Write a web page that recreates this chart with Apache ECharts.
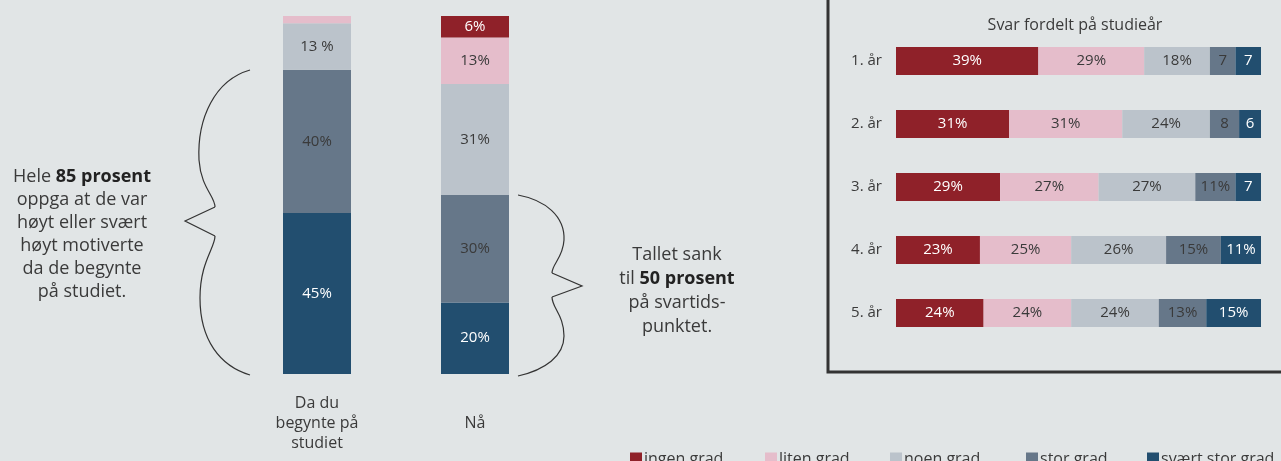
<!DOCTYPE html>
<html>
<head>
<meta charset="utf-8">
<script src="https://cdn.jsdelivr.net/npm/echarts@6/dist/echarts.min.js"></script>
<style>
  html, body { margin: 0; padding: 0; background: #e1e5e6; }
  #main { width: 1281px; height: 461px; }
</style>
</head>
<body>
<div id="main"></div>
<script>
// motivasjon da du begynte / nå
var categories = ['Da du\nbegynte på\nstudiet', 'Nå'];
var levels = ['ingen grad', 'liten grad', 'noen grad', 'stor grad', 'svært stor grad'];
var ingenGrad = [0, 6];
var litenGrad = [2, 13];
var noenGrad = [13, 31];
var storGrad = [40, 30];
var svaertStorGrad = [45, 20];

// svar fordelt på studieår
var years = ['1. år', '2. år', '3. år', '4. år', '5. år'];
var ingenYear = [39, 31, 28.5, 23, 24];
var litenYear = [29, 31, 27, 25, 24];
var noenYear = [18, 24, 26.5, 26, 24];
var storYear = [7, 8, 11, 15, 13];
var svaertYear = [7, 6, 7, 11, 15];

var colors = ['#8f2129', '#e5bdcb', '#bbc3cb', '#667789', '#224e6f'];
var labelColors = ['#ffffff', '#3a3a3a', '#3a3a3a', '#3a3a3a', '#ffffff'];
var FONT = 'Open Sans';

var chart = echarts.init(document.getElementById('main'));

var leftData = [ingenGrad, litenGrad, noenGrad, storGrad, svaertStorGrad];
var yearData = [ingenYear, litenYear, noenYear, storYear, svaertYear];

var series = [];
// stablet nedenfra: svært stor grad nederst
for (var i = levels.length - 1; i >= 0; i--) {
    series.push({
        name: levels[i],
        type: 'bar',
        stack: 'motiv',
        xAxisIndex: 0,
        yAxisIndex: 0,
        barWidth: 68,
        data: leftData[i],
        itemStyle: { color: colors[i] },
        label: {
            show: true,
            color: labelColors[i],
            fontFamily: FONT,
            fontSize: 15,
            formatter: function (p) {
                if (p.value < 5) return '';
                // første søyle har mellomrom før % i originalen
                return (p.dataIndex === 0 && p.seriesName === 'noen grad') ? p.value + ' %' : p.value + '%';
            }
        }
    });
}
levels.forEach(function (name, i) {
    series.push({
        name: name,
        type: 'bar',
        stack: 'aar',
        xAxisIndex: 1,
        yAxisIndex: 1,
        barWidth: 28,
        data: yearData[i],
        itemStyle: { color: colors[i] },
        label: {
            show: true,
            color: labelColors[i],
            fontFamily: FONT,
            fontSize: 15,
            formatter: function (p) {
                var v = Math.round(p.value);
                return v < 10 ? String(v) : v + '%';
            }
        }
    });
});

var legendLefts = [630, 765, 890, 1026, 1147];
var legends = levels.map(function (name, i) {
    return {
        data: [name],
        left: legendLefts[i],
        top: 451,
        padding: 0,
        icon: 'rect',
        itemWidth: 12,
        itemHeight: 13,
        selectedMode: false,
        textStyle: { fontFamily: FONT, fontSize: 16, color: '#3a3a3a', padding: [0, 0, 0, -3] }
    };
});

// klammer: kurver + spiss
function brace(curves, tip) {
    var els = curves.map(function (c) {
        return {
            type: 'bezierCurve',
            shape: { x1: c[0], y1: c[1], cpx1: c[2], cpy1: c[3], cpx2: c[4], cpy2: c[5], x2: c[6], y2: c[7] },
            style: { fill: null, stroke: '#333333', lineWidth: 1.2 }
        };
    });
    els.push({
        type: 'polyline',
        shape: { points: tip },
        style: { fill: null, stroke: '#333333', lineWidth: 1.2 }
    });
    return els;
}

var leftBrace = brace([
    [250, 70, 215, 80, 197, 118, 199, 160],
    [199, 160, 201, 188, 215, 196, 215, 207],
    [215, 236, 215, 248, 200, 262, 200, 298],
    [200, 298, 200, 340, 220, 366, 250, 375]
], [[215, 207], [185, 221], [215, 236]]);

var rightBrace = brace([
    [518, 195, 545, 200, 565, 216, 564, 240],
    [564, 240, 563, 258, 552, 264, 552, 273],
    [552, 297, 552, 308, 564, 315, 564, 336],
    [564, 336, 564, 356, 545, 370, 518, 376]
], [[552, 273], [582, 286], [552, 297]]);

var option = {
    backgroundColor: '#e1e5e6',
    animation: false,
    legend: legends,
    grid: [
        { left: 238, top: 16, width: 316, height: 358 },
        { left: 896, top: 29.5, width: 365, height: 315 }
    ],
    xAxis: [
        {
            gridIndex: 0,
            type: 'category',
            data: categories,
            axisLine: { show: false },
            axisTick: { show: false },
            axisLabel: {
                margin: 49,
                verticalAlign: 'middle',
                lineHeight: 20,
                fontFamily: FONT,
                fontSize: 16,
                color: '#3a3a3a'
            }
        },
        { gridIndex: 1, type: 'value', min: 0, max: 100, show: false }
    ],
    yAxis: [
        { gridIndex: 0, type: 'value', min: 0, max: 100, show: false },
        {
            gridIndex: 1,
            type: 'category',
            inverse: true,
            data: years,
            axisLine: { show: false },
            axisTick: { show: false },
            axisLabel: { margin: 14, fontFamily: FONT, fontSize: 15, color: '#3a3a3a' }
        }
    ],
    graphic: [
        {
            type: 'rect',
            shape: { x: 828, y: -10, width: 470, height: 382 },
            style: { fill: null, stroke: '#333333', lineWidth: 3 }
        },
        {
            type: 'text',
            x: 1075, y: 25,
            style: {
                text: 'Svar fordelt på studieår',
                align: 'center', verticalAlign: 'middle',
                fontFamily: FONT, fontSize: 16, fill: '#3a3a3a'
            }
        },
        {
            type: 'text',
            x: 82, y: 234,
            style: {
                text: 'Hele {b|85 prosent}\noppga at de var\nhøyt eller svært\nhøyt motiverte\nda de begynte\npå studiet.',
                align: 'center', verticalAlign: 'middle',
                fontFamily: FONT, fontSize: 18, lineHeight: 23, fill: '#3a3a3a',
                rich: { b: { fontWeight: 'bold', fontFamily: FONT, fontSize: 18, lineHeight: 23, fill: '#222222' } }
            }
        },
        {
            type: 'text',
            x: 677, y: 291,
            style: {
                text: 'Tallet sank\ntil {b|50 prosent}\npå svartids-\npunktet.',
                align: 'center', verticalAlign: 'middle',
                fontFamily: FONT, fontSize: 18, lineHeight: 24, fill: '#3a3a3a',
                rich: { b: { fontWeight: 'bold', fontFamily: FONT, fontSize: 18, lineHeight: 24, fill: '#222222' } }
            }
        }
    ].concat(leftBrace, rightBrace),
    series: series
};

chart.setOption(option);
</script>
</body>
</html>
